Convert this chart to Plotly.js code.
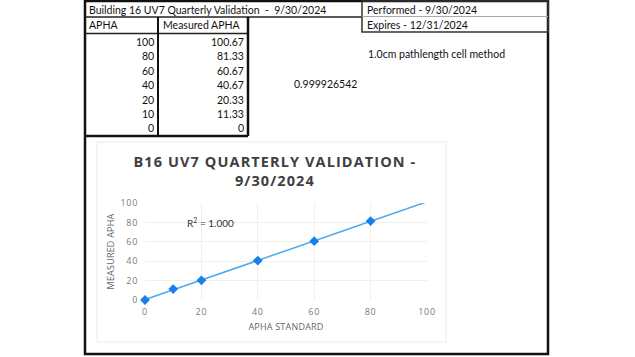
<!DOCTYPE html>
<html>
<head>
<meta charset="utf-8">
<script src="https://cdn.plot.ly/plotly-3.0.1.min.js"></script>
<style>
html,body{margin:0;padding:0;background:#fff;}
#chart{width:635px;height:357px;}
#chart .xtick text, #chart .ytick text{letter-spacing:0.7px;}
#chart .g-xtitle text, #chart .g-ytitle text{letter-spacing:0.2px;}
</style>
</head>
<body>
<div id="chart"></div>
<script>
// ---- Data ----
const sheetTitle = "Building 16 UV7 Quarterly Validation  -  9/30/2024";
const performedText = "Performed - 9/30/2024";
const expiresText = "Expires - 12/31/2024";
const methodText = "1.0cm pathlength cell method";
const correlText = "0.999926542";
const colHeaders = ["APHA", "Measured APHA"];
const aphaStandard = [100, 80, 60, 40, 20, 10, 0];
const measuredApha = [100.67, 81.33, 60.67, 40.67, 20.33, 11.33, 0];
// points plotted in the chart
const chartX = [0, 10, 20, 40, 60, 80];
const chartY = [0, 11.33, 20.33, 40.67, 60.67, 81.33];
const trendRange = [0, 100];
const chartTitle = "B16 UV7 QUARTERLY VALIDATION -<br>9/30/2024";
const xTitle = "APHA STANDARD";
const yTitle = "MEASURED APHA";
const r2Label = "R<sup>2</sup> = 1.000";
const tickVals = [0, 20, 40, 60, 80, 100];

// ---- helpers (pixel -> paper) ----
const W = 635, H = 357;
const px = x => x / W;
const py = y => 1 - y / H;

// least-squares trendline
const n = chartX.length;
const mx = chartX.reduce((a, b) => a + b, 0) / n;
const my = chartY.reduce((a, b) => a + b, 0) / n;
let sxy = 0, sxx = 0;
for (let i = 0; i < n; i++) { sxy += (chartX[i] - mx) * (chartY[i] - my); sxx += (chartX[i] - mx) ** 2; }
const slope = sxy / sxx, icpt = my - slope * mx;
const trendY = trendRange.map(x => icpt + slope * x);

const cellFont = {family: "Lato, 'Open Sans', sans-serif", size: 10.5, color: "#111"};
const shapes = [];
const ann = [];
function rect(x0, y0, x1, y1, color, width) {
  shapes.push({type: "rect", xref: "paper", yref: "paper", x0: px(x0), x1: px(x1), y0: py(y1), y1: py(y0),
    line: {color: color, width: width}, fillcolor: "rgba(0,0,0,0)", layer: "above"});
}
function line(x0, y0, x1, y1, color, width) {
  shapes.push({type: "line", xref: "paper", yref: "paper", x0: px(x0), x1: px(x1), y0: py(y0), y1: py(y1),
    line: {color: color, width: width}, layer: "above"});
}
function text(t, x, y, anchor, font) {
  ann.push({text: t, xref: "paper", yref: "paper", x: px(x), y: py(y), xanchor: anchor, yanchor: "middle",
    showarrow: false, font: font || cellFont});
}

// sheet frame
rect(85, 1, 548, 354, "#111", 2.5);
// title cell
line(85, 17, 362, 17, "#222", 1.5);
text(sheetTitle, 87, 9.5, "left", {family: "Lato, 'Open Sans', sans-serif", size: 10.5, color: "#111"});
// performed box
rect(362, 1, 548, 32, "#333", 1.5);
line(362, 16.5, 548, 16.5, "#aaa", 1);
text(performedText, 365, 9.5, "left");
text(expiresText, 365, 25, "left");
text(methodText, 366, 54, "left");
text(correlText, 292, 84, "left");
// data table
line(85, 33.5, 248, 33.5, "#222", 1.5);
line(158, 17, 158, 136, "#111", 2);
line(248, 17, 248, 136, "#111", 2.5);
line(85, 136, 248, 136, "#111", 2.5);
text(colHeaders[0], 87, 25, "left");
text(colHeaders[1], 161, 25, "left");
aphaStandard.forEach((v, i) => {
  const y = 42 + i * 14.4;
  text(String(v), 156, y, "right");
  text(measuredApha[i] === 0 ? "0" : measuredApha[i].toFixed(2), 246, y, "right");
});
// chart frame
rect(97, 142, 446, 342, "#ebebeb", 1);
// chart title
const titleIndex = ann.length;
ann.push({text: "<b>" + chartTitle + "</b>", xref: "paper", yref: "paper", x: px(275), y: py(171),
  xanchor: "center", yanchor: "middle", showarrow: false,
  font: {family: "'Open Sans', sans-serif", size: 14.5, color: "#404040"}});
// R2 label
ann.push({text: r2Label, xref: "paper", yref: "paper", x: px(185), y: py(222), xanchor: "left", yanchor: "middle",
  showarrow: false, font: {family: "Lato, 'Open Sans', sans-serif", size: 10, color: "#333"}});

const st = document.createElement("style");
st.textContent = '#chart .annotation[data-index="' + titleIndex + '"] text{letter-spacing:1.1px;}';
document.head.appendChild(st);

const traces = [
  {x: trendRange, y: trendY, type: "scatter", mode: "lines", line: {color: "#4aa8ef", width: 1.5},
   hoverinfo: "skip", showlegend: false, cliponaxis: false},
  {x: chartX, y: chartY, type: "scatter", mode: "markers", cliponaxis: false,
   marker: {symbol: "diamond", size: 7.5, color: "#1a7fe8"}, showlegend: false}
];

const tickFont = {family: "'Open Sans', sans-serif", size: 9, color: "#7a7a7a"};
const layout = {
  width: W, height: H,
  margin: {l: 0, r: 0, t: 0, b: 0},
  paper_bgcolor: "#fff", plot_bgcolor: "#fff",
  showlegend: false,
  xaxis: {domain: [px(145), px(427)], range: [0, 100], tickvals: tickVals, showline: false, zeroline: false,
    showgrid: true, gridcolor: "#f1f1ea", gridwidth: 1, tickfont: tickFont, ticks: "", ticklabelstandoff: 5,
    title: {text: xTitle, font: {family: "'Open Sans', sans-serif", size: 9, color: "#666"}, standoff: 6}},
  yaxis: {domain: [py(300), py(203)], range: [0, 100], tickvals: tickVals, showline: false, zeroline: false,
    showgrid: true, gridcolor: "#f1f1ea", gridwidth: 1, tickfont: tickFont, ticks: "", ticklabelstandoff: 6,
    title: {text: yTitle, font: {family: "'Open Sans', sans-serif", size: 9, color: "#666"}, standoff: 6}},
  shapes: shapes,
  annotations: ann
};

Plotly.newPlot("chart", traces, layout, {displayModeBar: false, staticPlot: true});
</script>
</body>
</html>
